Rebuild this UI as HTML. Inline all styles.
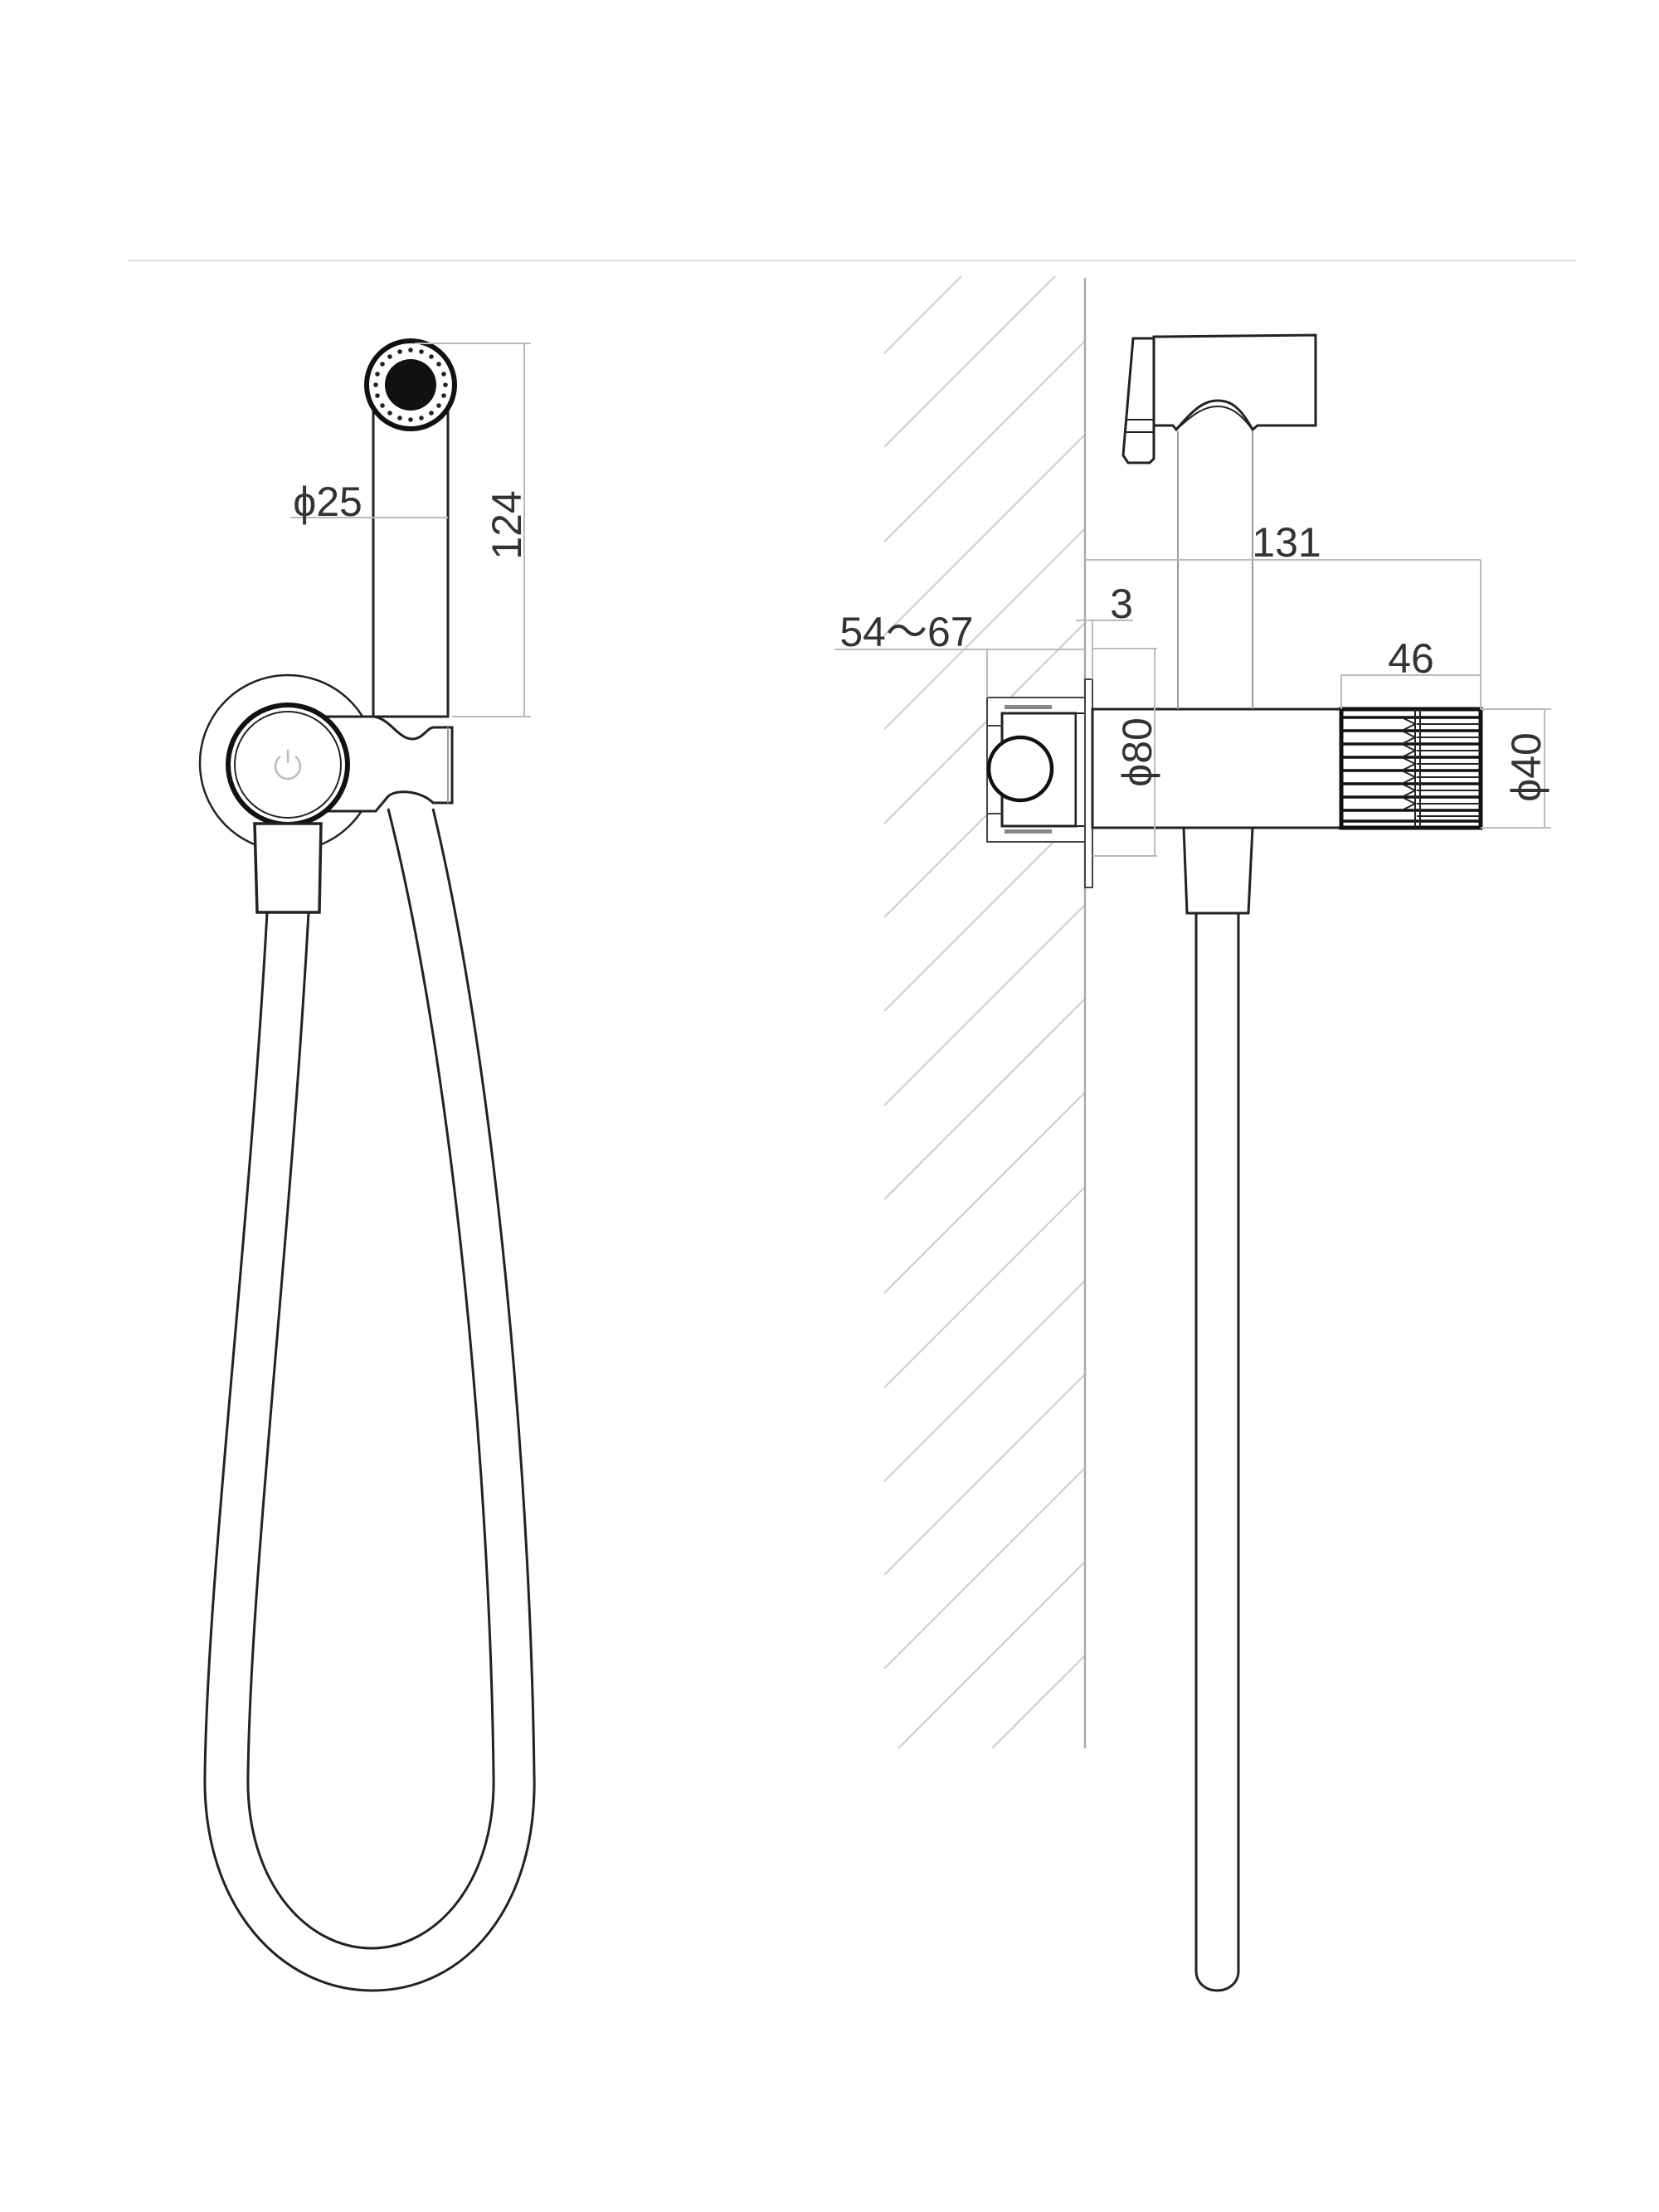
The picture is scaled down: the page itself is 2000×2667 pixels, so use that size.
<!DOCTYPE html>
<html><head><meta charset="utf-8"><style>
html,body{margin:0;padding:0;background:#fff;}
svg{display:block;}
text{font-family:"Liberation Sans","Noto Sans CJK SC",sans-serif;fill:#333;}
</style></head><body>
<svg width="2000" height="2667" viewBox="0 0 2000 2667" xmlns="http://www.w3.org/2000/svg">
<defs>
<clipPath id="hc"><rect x="1066" y="333" width="242" height="1775"/></clipPath>
</defs>
<line x1="154" y1="314" x2="1900" y2="314" stroke="#ddd" stroke-width="2"/>

<!-- ============ LEFT VIEW ============ -->
<g fill="none" stroke="#222" stroke-width="3">
<path d="M322,1100 C300,1500 250,1900 247,2140 C244,2300 340,2400 449,2400 C560,2400 648,2300 644,2140 C640,1800 600,1300 522,975"/>
<path d="M372,1100 C350,1500 302,1900 299,2140 C296,2270 370,2349 448,2349 C525,2349 598,2270 595,2140 C591,1800 550,1300 468,975"/>
</g>
<circle cx="347" cy="920" r="106" fill="#fff" stroke="#222" stroke-width="2.5"/>
<path d="M393,864 L450,864 C470,866 480,891 497,891 C510,891 515,877 523,877 L545,877 L545,968 L522,968 C510,955 480,950 468,960 L453,978 L393,978 Z" fill="#fff" stroke="#222" stroke-width="3"/>
<line x1="540" y1="877" x2="540" y2="968" stroke="#999" stroke-width="2"/>
<circle cx="347" cy="922" r="72" fill="#fff" stroke="#111" stroke-width="6"/>
<circle cx="347" cy="922" r="64" fill="none" stroke="#222" stroke-width="2"/>
<path d="M338,912 A15,15 0 1 0 356,912" fill="none" stroke="#bbb" stroke-width="2.5"/>
<line x1="347" y1="904" x2="347" y2="920" stroke="#bbb" stroke-width="2.5"/>
<path d="M307,993 L387,993 L385,1100 L310,1100 Z" fill="#fff" stroke="#222" stroke-width="3.5"/>
<rect x="450" y="467" width="90" height="397" fill="#fff" stroke="#222" stroke-width="3"/>
<circle cx="495" cy="464" r="53" fill="#fff" stroke="#111" stroke-width="6"/>
<circle cx="495" cy="464" r="31" fill="#111"/>
<g fill="#222">
<circle cx="537" cy="464" r="2.8"/><circle cx="535" cy="477" r="2.8"/><circle cx="529" cy="489" r="2.8"/><circle cx="520" cy="498" r="2.8"/><circle cx="508" cy="504" r="2.8"/><circle cx="495" cy="506" r="2.8"/><circle cx="482" cy="504" r="2.8"/><circle cx="470" cy="498" r="2.8"/><circle cx="461" cy="489" r="2.8"/><circle cx="455" cy="477" r="2.8"/><circle cx="453" cy="464" r="2.8"/><circle cx="455" cy="451" r="2.8"/><circle cx="461" cy="439" r="2.8"/><circle cx="470" cy="430" r="2.8"/><circle cx="482" cy="424" r="2.8"/><circle cx="495" cy="422" r="2.8"/><circle cx="508" cy="424" r="2.8"/><circle cx="520" cy="430" r="2.8"/><circle cx="529" cy="439" r="2.8"/><circle cx="535" cy="451" r="2.8"/>
</g>
<g stroke="#bbb" stroke-width="2" fill="none">
<line x1="500" y1="414" x2="640" y2="414"/>
<line x1="545" y1="864" x2="640" y2="864"/>
<line x1="632" y1="414" x2="632" y2="864"/>
<line x1="350" y1="624" x2="540" y2="624"/>
</g>
<text x="395" y="622" font-size="50" text-anchor="middle">ϕ25</text>
<text transform="translate(628,633) rotate(-90)" font-size="50" text-anchor="middle">124</text>

<!-- ============ RIGHT VIEW ============ -->
<g clip-path="url(#hc)" stroke="#ccc" stroke-width="2">
<line x1="1066" y1="426" x2="1400" y2="92"/>
<line x1="1066" y1="539" x2="1400" y2="205"/>
<line x1="1066" y1="653" x2="1400" y2="319"/>
<line x1="1066" y1="766" x2="1400" y2="432"/>
<line x1="1066" y1="879" x2="1400" y2="545"/>
<line x1="1066" y1="993" x2="1400" y2="659"/>
<line x1="1066" y1="1106" x2="1400" y2="772"/>
<line x1="1066" y1="1219" x2="1400" y2="885"/>
<line x1="1066" y1="1333" x2="1400" y2="999"/>
<line x1="1066" y1="1446" x2="1400" y2="1112"/>
<line x1="1066" y1="1559" x2="1400" y2="1225"/>
<line x1="1066" y1="1673" x2="1400" y2="1339"/>
<line x1="1066" y1="1786" x2="1400" y2="1452"/>
<line x1="1066" y1="1899" x2="1400" y2="1565"/>
<line x1="1066" y1="2012" x2="1400" y2="1678"/>
<line x1="1066" y1="2125" x2="1400" y2="1791"/>
<line x1="1066" y1="2238" x2="1400" y2="1904"/>
<line x1="1066" y1="2352" x2="1400" y2="2018"/>
</g>
<line x1="1308" y1="335" x2="1308" y2="2108" stroke="#aaa" stroke-width="2.5"/>

<rect x="1190" y="841" width="118" height="174" fill="#fff" stroke="#444" stroke-width="2"/>
<rect x="1208" y="860" width="89" height="136" fill="#fff" stroke="#222" stroke-width="3"/>
<rect x="1297" y="860" width="11" height="136" fill="#fff" stroke="#222" stroke-width="2"/>
<line x1="1190" y1="875" x2="1208" y2="875" stroke="#444" stroke-width="2"/>
<line x1="1190" y1="981" x2="1208" y2="981" stroke="#444" stroke-width="2"/>
<rect x="1211" y="850" width="57" height="5" fill="#888"/>
<rect x="1211" y="1000" width="57" height="5" fill="#888"/>
<circle cx="1230" cy="927" r="38" fill="#fff" stroke="#111" stroke-width="4.5"/>
<rect x="1308" y="819" width="9" height="251" fill="#fff" stroke="#444" stroke-width="2"/>

<path d="M1442,1101 L1442,2376 C1442,2392 1455,2400 1467,2400 C1480,2400 1493,2392 1493,2376 L1493,1101" fill="#fff" stroke="#222" stroke-width="3"/>
<path d="M1427,998 L1510,998 L1505,1101 L1431,1101 Z" fill="#fff" stroke="#222" stroke-width="3"/>
<rect x="1317" y="855" width="300" height="143" fill="#fff" stroke="#222" stroke-width="3"/>
<g>
<rect x="1617" y="855" width="168" height="143" fill="#fff" stroke="#111" stroke-width="5"/>
<g stroke="#111" stroke-width="3.5">
<line x1="1617" y1="865" x2="1785" y2="865"/>
<line x1="1617" y1="881" x2="1785" y2="881"/>
<line x1="1617" y1="897" x2="1785" y2="897"/>
<line x1="1617" y1="913" x2="1785" y2="913"/>
<line x1="1617" y1="929" x2="1785" y2="929"/>
<line x1="1617" y1="945" x2="1785" y2="945"/>
<line x1="1617" y1="961" x2="1785" y2="961"/>
<line x1="1617" y1="977" x2="1785" y2="977"/>
<line x1="1617" y1="990" x2="1785" y2="990"/>
</g>
<g stroke="#222" stroke-width="2">
<line x1="1708" y1="873" x2="1785" y2="873"/>
<line x1="1708" y1="889" x2="1785" y2="889"/>
<line x1="1708" y1="905" x2="1785" y2="905"/>
<line x1="1708" y1="921" x2="1785" y2="921"/>
<line x1="1708" y1="937" x2="1785" y2="937"/>
<line x1="1708" y1="953" x2="1785" y2="953"/>
<line x1="1708" y1="969" x2="1785" y2="969"/>
<line x1="1708" y1="984" x2="1785" y2="984"/>
<line x1="1706" y1="855" x2="1706" y2="998"/>
<line x1="1712" y1="855" x2="1712" y2="998"/>
</g>
<g fill="none" stroke="#222" stroke-width="2">
<path d="M1690,865 L1706,873 L1690,881"/><path d="M1690,897 L1706,905 L1690,913"/><path d="M1690,929 L1706,937 L1690,945"/><path d="M1690,961 L1706,969 L1690,977"/>
<path d="M1690,881 L1706,889 L1690,897"/><path d="M1690,913 L1706,921 L1690,929"/><path d="M1690,945 L1706,953 L1690,961"/>
</g>
</g>

<g fill="#fff" stroke="#222" stroke-width="3">
<path d="M1391,406 L1586,404 L1586,513 L1516,513 L1510,518 C1495,490 1483,483 1468,483 C1452,483 1440,492 1418,518 L1414,513 L1391,513 Z"/>
<path d="M1366,408 L1391,408 L1391,553 L1386,558 L1360,558 L1354,549 Z"/>
</g>
<path d="M1418,518 C1440,498 1452,490 1468,490 C1483,490 1495,498 1510,518" fill="none" stroke="#222" stroke-width="2"/>
<line x1="1357" y1="506" x2="1391" y2="506" stroke="#222" stroke-width="2"/>
<line x1="1356" y1="521" x2="1391" y2="521" stroke="#222" stroke-width="2"/>
<g stroke="#999" stroke-width="2">
<line x1="1420" y1="520" x2="1420" y2="855"/>
<line x1="1510" y1="520" x2="1510" y2="855"/>
</g>

<g stroke="#bbb" stroke-width="2" fill="none">
<line x1="1308" y1="675" x2="1785" y2="675"/>
<line x1="1785" y1="675" x2="1785" y2="855"/>
<line x1="1297" y1="748" x2="1366" y2="748"/>
<line x1="1317" y1="748" x2="1317" y2="819"/>
<line x1="1006" y1="783" x2="1308" y2="783"/>
<line x1="1190" y1="783" x2="1190" y2="841"/>
<line x1="1317" y1="782" x2="1395" y2="782"/>
<line x1="1317" y1="1032" x2="1395" y2="1032"/>
<line x1="1392" y1="782" x2="1392" y2="1032"/>
<line x1="1617" y1="814" x2="1785" y2="814"/>
<line x1="1617" y1="814" x2="1617" y2="855"/>
<line x1="1785" y1="855" x2="1870" y2="855"/>
<line x1="1785" y1="998" x2="1870" y2="998"/>
<line x1="1862" y1="855" x2="1862" y2="998"/>
</g>
<text x="1551" y="671" font-size="50" text-anchor="middle">131</text>
<text x="1352" y="745" font-size="50" text-anchor="middle">3</text>
<text x="1093" y="779" font-size="50" text-anchor="middle">54～67</text>
<text x="1701" y="811" font-size="50" text-anchor="middle">46</text>
<text transform="translate(1388,907) rotate(-90)" font-size="50" text-anchor="middle">ϕ80</text>
<text transform="translate(1857,925) rotate(-90)" font-size="50" text-anchor="middle">ϕ40</text>
</svg>
</body></html>
